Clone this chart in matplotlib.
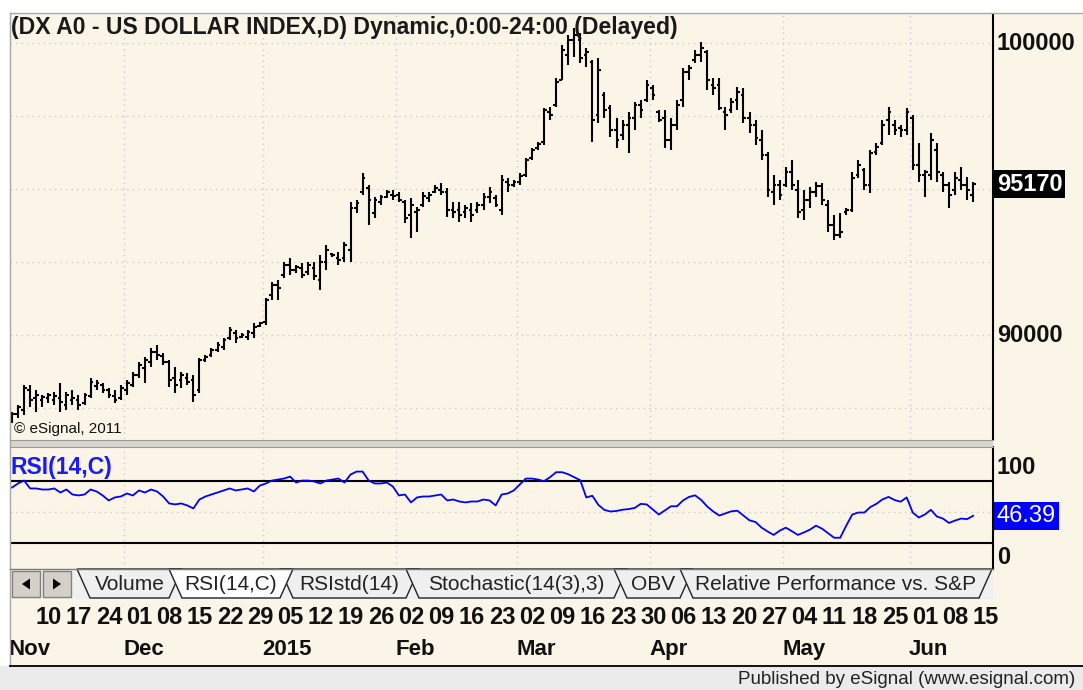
import matplotlib.pyplot as plt
from matplotlib.patches import Rectangle, Polygon
from matplotlib.transforms import blended_transform_factory
import numpy as np
import pandas as pd

plt.rcParams['font.family'] = ['Liberation Sans', 'DejaVu Sans']

# daily sessions on the chart (Nov 4 2014 .. Jun 15 2015)
dates = pd.bdate_range('2014-11-04', '2015-06-15')

opens = [
    87050, 87290, 87430, 88120, 87840, 87770, 87840, 87770, 87840, 87600,
    87770, 87770, 87670, 87910, 88250, 88290, 88120, 87910, 87840, 88120,
    88290, 88630, 88870, 89070, 89420, 89280, 89070, 88530, 88460, 88530,
    88460, 88120, 89140, 89310, 89490, 89590, 89900, 90070, 89930, 89930,
    90070,
    90310, 90440, 91370, 91710, 92050, 92400, 92230, 92290, 92160, 92290,
    91880, 92500, 92770, 92640, 92640, 92910, 94350, 94900, 95030, 94180,
    94550, 94730, 94790, 94790, 94550, 94110, 94210, 94450, 94690, 94900,
    94970, 94900, 94280, 94280, 94210, 94280, 94280, 94450, 94730, 94690,
    94280, 95240, 95140, 95240, 95480, 96060, 96400, 96610, 97640, 97880,
    98730, 99590, 100100, 100100, 99590, 99350, 97530, 98220, 97770, 97020,
    96850, 97190, 97430, 97880, 98050, 98460, 97640, 97430, 96680, 97190,
    98050, 99010, 99420, 99590, 99690, 98560, 98560, 97640, 97710, 98050,
    98220, 97430, 97190, 96680, 96160, 94900, 95140, 95140, 95580, 94970,
    94280, 94620, 94900, 95100, 94450, 93770, 93420, 94210, 94280, 95480,
    95650, 95140, 96270, 96580, 97360, 97190, 97090, 97020, 97430, 95820,
    95480, 95480, 96340, 95480, 95140, 94970, 95310, 95140, 94790,
]
highs = [
    87360, 87600, 88290, 88290, 88120, 87940, 88010, 88050, 88360, 88050,
    88120, 87940, 88010, 88530, 88460, 88360, 88180, 88120, 88290, 88460,
    88730, 89070, 89250, 89550, 89660, 89380, 89140, 88900, 88730, 88700,
    88630, 89210, 89310, 89550, 89760, 89900, 90270, 90170, 90070, 90170,
    90410,
    90440, 91270, 91810, 91880, 92500, 92640, 92400, 92470, 92500, 92500,
    92740, 93080, 92810, 92840, 93180, 94550, 94620, 95550, 95140, 94730,
    94790, 94970, 94970, 94900, 94620, 94690, 94380, 94900, 94900, 95140,
    95210, 95030, 94550, 94550, 94450, 94520, 94550, 94860, 95070, 94790,
    95480, 95380, 95310, 95550, 96060, 96400, 96610, 97770, 97810, 98800,
    99930, 100270, 100510, 100340, 99830, 99420, 99490, 98320, 97880, 97430,
    97360, 97640, 97980, 98050, 98730, 98560, 97710, 97710, 97430, 98050,
    99140, 99250, 99760, 100030, 99760, 98800, 98800, 97810, 98120, 98490,
    98460, 97640, 97360, 97020, 96270, 95480, 95310, 95750, 95990, 95310,
    94970, 95070, 95240, 95210, 94620, 94110, 94180, 94350, 95580, 95990,
    95720, 96340, 96580, 97360, 97810, 97360, 97190, 97770, 97530, 96580,
    95650, 96920, 96580, 95580, 95240, 95580, 95750, 95410, 95240,
]
lows = [
    86990, 87160, 87260, 87530, 87360, 87530, 87670, 87600, 87360, 87430,
    87600, 87430, 87600, 87840, 88120, 88010, 87840, 87670, 87770, 87940,
    88220, 88530, 88360, 88900, 89140, 88970, 88220, 88010, 88180, 88290,
    87700, 88010, 89070, 89250, 89420, 89490, 89830, 89730, 89900, 89830,
    89900,
    90270, 90340, 91200, 91200, 91950, 92050, 92120, 91950, 92050, 91880,
    91540, 92230, 92670, 92400, 92500, 92500, 94180, 94790, 93770, 94010,
    94450, 94690, 94620, 94550, 93840, 93320, 93530, 94380, 94550, 94860,
    94790, 94040, 94010, 93870, 94010, 93870, 94180, 94280, 94520, 94380,
    94110, 94900, 95070, 95140, 95410, 95990, 96340, 96510, 97360, 97810,
    98730, 99250, 99520, 99320, 99180, 96610, 97260, 97430, 96780, 96400,
    96680, 96230, 97020, 97430, 97980, 98050, 97290, 96400, 96340, 97020,
    97810, 98730, 99320, 99350, 98390, 98220, 97710, 97020, 97600, 97710,
    97260, 96920, 96510, 95990, 94730, 94450, 94620, 95070, 94970, 94010,
    93940, 94350, 94730, 94450, 93530, 93250, 93320, 94110, 94210, 95380,
    94970, 94860, 96160, 96510, 96850, 96850, 96780, 96850, 95650, 95240,
    94730, 95310, 95240, 94900, 94350, 94790, 94970, 94620, 94550,
]
closes = [
    87290, 87530, 88180, 87770, 87940, 87880, 87940, 87910, 87700, 87940,
    87840, 87600, 87940, 88390, 88360, 88120, 87940, 87770, 88180, 88360,
    88630, 88970, 89140, 89420, 89310, 89070, 88460, 88290, 88630, 88390,
    87940, 89140, 89250, 89490, 89660, 89830, 90170, 89900, 90000, 90100,
    90270,
    90410, 91200, 91710, 91610, 92400, 92230, 92330, 92050, 92400, 92020,
    92500, 92910, 92740, 92570, 93080, 94350, 94520, 95380, 94620, 94620,
    94730, 94900, 94760, 94620, 94010, 94450, 94280, 94760, 94790, 95030,
    94900, 94280, 94210, 94110, 94350, 94110, 94450, 94730, 94900, 94450,
    95310, 95140, 95240, 95450, 95990, 96340, 96540, 97710, 97530, 98660,
    99760, 100100, 100270, 99490, 99690, 97360, 99080, 97710, 97020, 96680,
    97190, 97430, 97880, 97710, 98560, 98220, 97360, 96680, 97190, 97880,
    99010, 99140, 99590, 99830, 98730, 98460, 97770, 97530, 97980, 98320,
    97430, 97190, 96750, 96160, 94970, 95140, 94790, 95580, 95140, 94210,
    94620, 94900, 95100, 94620, 93770, 93420, 93530, 94280, 95380, 95820,
    95140, 96230, 96440, 97190, 97640, 97020, 97020, 97640, 95820, 95480,
    95580, 96680, 95580, 95140, 94790, 95380, 95140, 94970, 95170,
]
rsi = [
    73.5, 77.4, 80.2, 72.6, 72.6, 71.6, 71.6, 72.6, 68.7, 71.6,
    66.8, 65.9, 66.8, 71.6, 69.7, 65.9, 61.1, 64.0, 64.9, 67.8,
    65.9, 70.7, 68.7, 71.6, 69.7, 64.9, 58.2, 57.3, 58.2, 56.3,
    53.4, 62.0, 64.9, 66.8, 68.7, 70.7, 72.6, 70.7, 71.6, 72.6,
    69.7,
    75.4, 77.4, 80.2, 81.2, 82.1, 84.0, 78.3, 80.2, 80.2, 79.3,
    77.4, 80.2, 81.2, 82.1, 78.3, 86.0, 88.8, 88.8, 80.2, 77.4,
    77.4, 78.3, 74.5, 65.9, 66.8, 59.2, 64.0, 64.9, 64.9, 65.9,
    66.8, 61.1, 62.0, 60.1, 59.2, 60.1, 60.1, 62.0, 61.1, 56.3,
    66.8, 67.8, 70.7, 76.4, 82.1, 82.1, 81.2,
    79.6, 83.4, 88.2, 88.2, 86.3, 83.4, 80.5, 64.0, 65.6, 56.8,
    52.0, 50.5, 51.0, 52.2, 52.8, 53.9, 57.8, 57.3, 52.4, 47.6,
    51.5, 55.5, 55.5, 61.1, 64.5, 66.0, 61.6, 55.3, 50.5, 46.6,
    48.6, 50.7, 51.2, 46.6, 42.0, 40.4, 35.0, 31.3, 28.0, 32.1,
    35.0, 31.6, 28.0, 30.4, 33.1, 36.9, 34.0, 29.7, 25.3, 25.3,
    36.9, 47.6, 49.5, 49.5, 54.8, 57.9, 62.1, 64.5, 61.5, 59.9,
    64.0, 49.5, 44.7, 47.6, 52.1, 45.7, 43.7, 39.5, 41.8, 43.7,
    43.2, 46.39,
]
tab_names = ['Volume', 'RSI(14,C)', 'RSIstd(14)', 'Stochastic(14(3),3)',
             'OBV', 'Relative Performance vs. S&P']
title = '(DX A0 - US DOLLAR INDEX,D) Dynamic,0:00-24:00 (Delayed)'

W, H = 1083, 690
CREAM = '#fbf5e8'
x = np.arange(len(closes))


def rect(l, t, r, b):
    return [l / W, 1 - b / H, (r - l) / W, (b - t) / H]


fig = plt.figure(figsize=(W / 100, H / 100), dpi=100)
fig.patch.set_facecolor(CREAM)
xlim = (-0.33, 162.28)
grid_kw = dict(color='#cccccc', lw=1, ls=(0, (1, 3)), zorder=0)
month_starts = [i for i in range(1, len(dates)) if dates[i].month != dates[i - 1].month]


def clean(a):
    a.set_facecolor(CREAM)
    a.set_xlim(xlim)
    a.set_xticks([])
    a.set_yticks([])
    for s in a.spines.values():
        s.set_visible(False)
    a.spines['right'].set_visible(True)
    a.spines['right'].set_linewidth(1.5)
    for m in month_starts:
        a.axvline(m - 0.5, **grid_kw)


# ---- price panel
ax = fig.add_axes(rect(10, 13, 993, 439))
clean(ax)
ax.set_ylim(86440, 101030)
for v in range(87500, 101000, 2500):
    ax.axhline(v, **grid_kw)
ax.vlines(x, lows, highs, color='black', lw=1.5)
ax.hlines(opens, x - 0.45, x, color='black', lw=1.5)
ax.hlines(closes, x, x + 0.45, color='black', lw=1.5)

ty = blended_transform_factory(ax.transAxes, ax.transData)
for v in [100000, 90000]:
    ax.text(1.004, v, str(v), transform=ty, ha='left', va='center',
            fontsize=17, fontweight='bold', color='#111111', clip_on=False)
ax.text(1.004, closes[-1], str(closes[-1]), transform=ty, ha='left', va='center',
        fontsize=17, fontweight='bold', color='white', clip_on=False,
        bbox=dict(boxstyle='square,pad=0.12', fc='black', ec='none'))

# ---- RSI panel
ax2 = fig.add_axes(rect(10, 447, 993, 569))
clean(ax2)
ax2.set_ylim(-4.7, 112.4)
ax2.axhline(50, **grid_kw)
ax2.axhline(80, color='black', lw=1.5)
ax2.axhline(20, color='black', lw=1.5)
ax2.plot(x, rsi, color='#0000ff', lw=1.3)
ax2.text(0.001, 0.836, 'RSI(14,C)', transform=ax2.transAxes, color='#1a1aff',
         fontsize=16.5, fontweight='bold', va='center')
ty2 = blended_transform_factory(ax2.transAxes, ax2.transData)
ax2.text(1.004, 0.836, '100', transform=ax2.transAxes, ha='left', va='center',
         fontsize=17, fontweight='bold', color='#111111', clip_on=False)
ax2.text(1.004, 0.094, '0', transform=ax2.transAxes, ha='left', va='center',
         fontsize=17, fontweight='bold', color='#111111', clip_on=False)
ax2.text(1.004, rsi[-1], f'{rsi[-1]:.2f}', transform=ty2, ha='left', va='center',
         fontsize=17, color='white', clip_on=False,
         bbox=dict(boxstyle='square,pad=0.12', fc='#0000ff', ec='none'))

# ---- date labels
ax3 = fig.add_axes(rect(10, 600, 993, 665))
ax3.set_xlim(xlim)
ax3.set_ylim(1, 0)
ax3.axis('off')
for i, d in enumerate(dates):
    if d.weekday() == 0:
        ax3.text(i - 0.1, 0.27, f'{d.day:02d}', ha='left', va='center',
                 fontsize=17, fontweight='bold', color='#111111')
for i in [0] + month_starts:
    lab = '2015' if dates[i].month == 1 else dates[i].strftime('%b')
    ax3.text(i - 0.6, 0.76, lab, ha='left', va='center',
             fontsize=16, fontweight='bold', color='#111111')

# ---- window chrome, tabs, footer
ov = fig.add_axes([0, 0, 1, 1], zorder=5)
ov.set_xlim(0, W)
ov.set_ylim(H, 0)
ov.axis('off')
ov.add_patch(Rectangle((0, 0), W, 12.5, fc='white', ec='none'))
ov.add_patch(Rectangle((0, 0), 9.5, 666, fc='white', ec='none'))
ov.plot([9.5, W], [12.5, 12.5], color='#a8a8a8', lw=1)
ov.plot([9.5, 9.5], [12.5, 666], color='#a8a8a8', lw=1)
ov.add_patch(Rectangle((10, 439.5), 983, 7, fc='#d8d5ce', ec='none'))
ov.plot([10, 993], [440, 440], color='#9a9a9a', lw=0.8)
ov.plot([10, 993], [446.5, 446.5], color='#9a9a9a', lw=0.8)

ov.text(11, 27.5, title, fontsize=16.6, fontweight='bold', color='#1a1a1a', va='center')
ov.text(14, 429, '\u00a9 eSignal, 2011', fontsize=11, color='#111111', va='center')

top, bot, sl = 569, 598, 13
ov.add_patch(Rectangle((10, top), 983, bot - top + 1, fc='#f0f0f0', ec='none'))
ov.plot([10, 993], [top, top], color='#7a7a7a', lw=1)
for bx in (12, 43):
    ov.add_patch(Rectangle((bx, 571), 28, 26, fc='#d4d0c8', ec='#808080', lw=1))
ov.add_patch(Polygon([(22, 584), (30, 578.5), (30, 589.5)], fc='black', ec='none'))
ov.add_patch(Polygon([(61, 584), (53, 578.5), (53, 589.5)], fc='black', ec='none'))
edges = [77, 169, 280, 406, 614, 680, 979]
order = [0, 2, 3, 4, 5, 1]
for k in order:
    a, b = edges[k], edges[k + 1]
    sel = k == 1
    ov.add_patch(Polygon([(a, top), (b + sl, top), (b, bot), (a + sl, bot)],
                         fc='white' if sel else '#efefef', ec='#222222', lw=1))
    ov.text((a + b + sl) / 2, (top + bot) / 2 + 1, tab_names[k], ha='center', va='center',
            fontsize=15, color='#222222')

ov.add_patch(Rectangle((0, 666), W, H - 666, fc='#ebebeb', ec='none'))
ov.plot([10, W], [666, 666], color='black', lw=1.3)
ov.text(1075, 679, 'Published by eSignal (www.esignal.com)', ha='right', va='center',
        fontsize=13.5, color='#222222')

fig.savefig('out.png', dpi=100, facecolor=fig.get_facecolor())
